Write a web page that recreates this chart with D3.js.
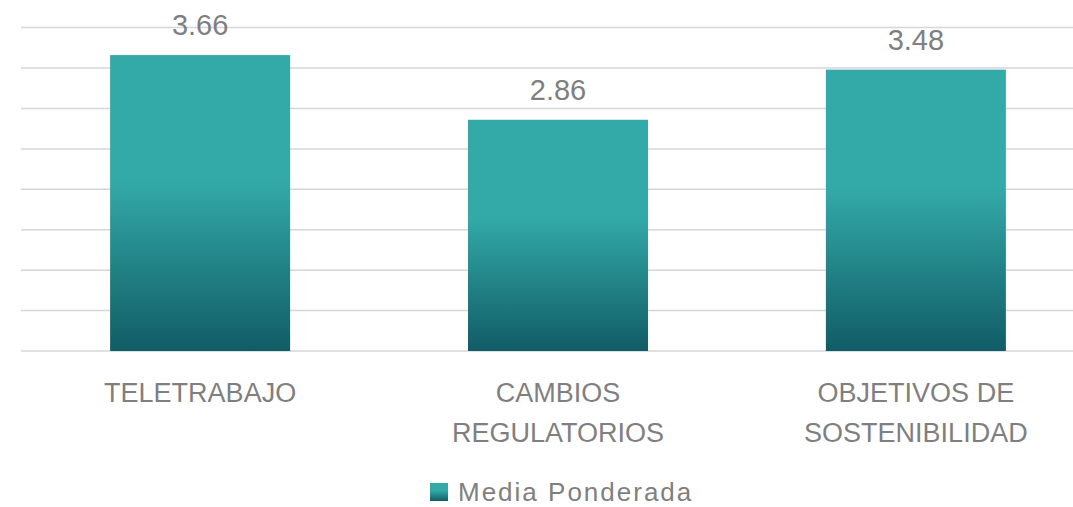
<!DOCTYPE html>
<html>
<head>
<meta charset="utf-8">
<script src="https://cdn.jsdelivr.net/npm/d3@7"></script>
<style>
  html, body { margin: 0; padding: 0; background: #ffffff; }
  svg { display: block; font-family: "Liberation Sans", Arial, sans-serif; }
</style>
</head>
<body>
<div id="chart"></div>
<script>
// Data
const categories = [
  ["TELETRABAJO"],
  ["CAMBIOS", "REGULATORIOS"],
  ["OBJETIVOS DE", "SOSTENIBILIDAD"],
];
const values = [3.66, 2.86, 3.48];
const gridTicks = [0, 0.5, 1, 1.5, 2, 2.5, 3, 3.5, 4];
const seriesName = "Media Ponderada";

const width = 1073;
const height = 507;
const textColor = "#7f7f7f";

const svg = d3
  .select("#chart")
  .append("svg")
  .attr("width", width)
  .attr("height", height);

// Bar gradient: flat teal on top, darkening towards the base
const defs = svg.append("defs");
const grad = defs
  .append("linearGradient")
  .attr("id", "barGrad")
  .attr("x1", 0)
  .attr("y1", 0)
  .attr("x2", 0)
  .attr("y2", 1);
grad.append("stop").attr("offset", "0%").attr("stop-color", "#33aaa8");
grad.append("stop").attr("offset", "42%").attr("stop-color", "#33aaa8");
grad.append("stop").attr("offset", "100%").attr("stop-color", "#115c66");

// Scales (plot runs past the right edge, as in the cropped original)
const keys = categories.map((d) => d.join(" "));
const x = d3
  .scaleBand()
  .domain(keys)
  .range([21, 1095])
  .paddingInner(0.497)
  .paddingOuter(0.249);
const y = d3.scaleLinear().domain([0, 4]).range([351, 27.6]);

// Gridlines
svg
  .append("g")
  .attr("class", "grid")
  .selectAll("line")
  .data(gridTicks)
  .join("line")
  .attr("x1", 21)
  .attr("x2", 1095)
  .attr("y1", (d) => y(d))
  .attr("y2", (d) => y(d))
  .attr("stroke", "#d6d6d6")
  .attr("stroke-width", 1.5);

// Bars
svg
  .append("g")
  .selectAll("rect")
  .data(values)
  .join("rect")
  .attr("x", (d, i) => x(keys[i]))
  .attr("y", (d) => y(d))
  .attr("width", x.bandwidth())
  .attr("height", (d) => y(0) - y(d))
  .attr("fill", "url(#barGrad)");

// Value labels
svg
  .append("g")
  .selectAll("text")
  .data(values)
  .join("text")
  .attr("x", (d, i) => x(keys[i]) + x.bandwidth() / 2)
  .attr("y", (d) => y(d) - 20)
  .attr("text-anchor", "middle")
  .attr("fill", textColor)
  .style("font-size", "29px")
  .text((d) => d.toFixed(2));

// Category labels
const cat = svg
  .append("g")
  .selectAll("text")
  .data(categories)
  .join("text")
  .attr("x", (d, i) => x(keys[i]) + x.bandwidth() / 2)
  .attr("y", 402)
  .attr("text-anchor", "middle")
  .attr("fill", textColor)
  .style("font-size", "27px");
cat
  .selectAll("tspan")
  .data((d) => d)
  .join("tspan")
  .attr("x", function () {
    return this.parentNode.getAttribute("x");
  })
  .attr("dy", (d, i) => (i === 0 ? 0 : 40))
  .text((d) => d);

// Legend
const legend = svg.append("g").attr("transform", "translate(430,483)");
legend
  .append("rect")
  .attr("width", 18)
  .attr("height", 18)
  .attr("fill", "url(#barGrad)");
legend
  .append("text")
  .attr("x", 28)
  .attr("y", 18)
  .attr("fill", textColor)
  .style("font-size", "26px")
  .style("letter-spacing", "2px")
  .text(seriesName);
</script>
</body>
</html>
